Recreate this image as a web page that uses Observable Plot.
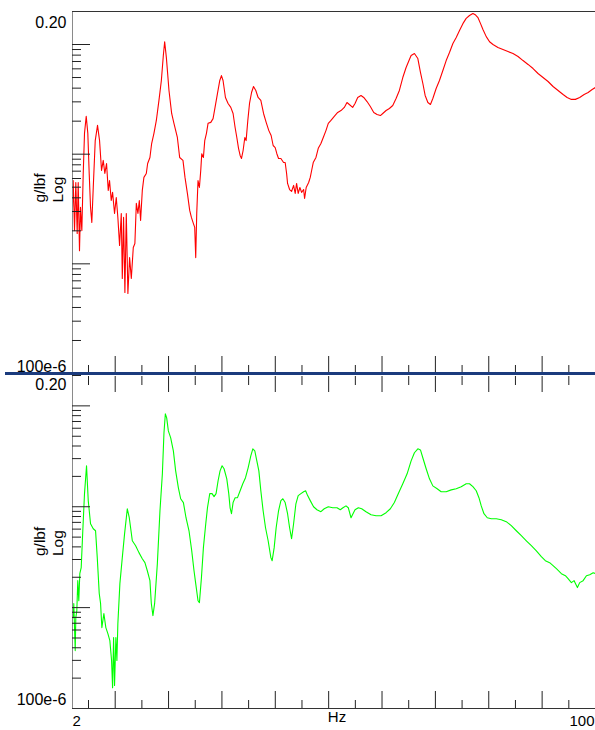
<!DOCTYPE html>
<html><head><meta charset="utf-8">
<script src="https://cdn.jsdelivr.net/npm/d3@7"></script>
<script src="https://cdn.jsdelivr.net/npm/@observablehq/plot@0.6"></script>
<style>
body{margin:0;background:#fff;}
#wrap{position:relative;width:595px;height:730px;overflow:hidden;background:#fff;}
#top,#bot{position:absolute;left:0;}
#top{top:0;}
#bot{top:373px;}
#divider{position:absolute;left:5px;width:590px;top:372px;height:3px;background:#1b3b7d;z-index:5;}
</style></head><body>
<div id="wrap"><div id="top"></div><div id="divider"></div><div id="bot"></div></div>
<script>
// ---- data (Hz, g/lbf) ----
const topFreq = [
 2.00,2.13,2.38,2.62,2.88,3.07,3.31,3.50,3.75,4.01,
 4.25,4.57,4.87,5.13,5.38,5.62,5.89,6.26,6.69,7.07,
 7.44,7.76,8.06,8.38,8.70,8.94,9.26,9.51,9.88,10.20,
 10.50,10.82,11.14,11.33,11.57,11.82,12.08,12.38,12.70,13.02,
 13.39,13.69,13.96,14.26,14.52,14.76,15.08,15.38,15.83,16.08,
 16.51,16.83,17.26,17.71,18.20,18.65,19.02,19.27,19.59,20.08,
 20.58,21.01,21.65,22.08,22.70,23.08,23.53,23.96,24.28,24.66,
 24.90,25.09,25.28,25.52,25.78,26.03,26.22,26.53,26.78,27.10,
 27.40,27.91,28.34,28.71,29.16,29.60,29.91,30.21,30.66,31.15,
 31.66,32.09,32.47,32.79,33.11,33.41,33.67,33.97,34.29,34.53,
 34.85,35.17,35.55,35.92,36.35,36.78,37.29,37.80,38.29,38.79,
 39.22,39.60,39.98,40.29,40.61,41.05,41.55,41.85,42.12,42.30,
 42.68,43.05,43.43,43.73,43.99,44.29,44.61,44.93,45.31,45.49,
 45.79,46.25,46.55,46.81,47.11,47.62,48.05,48.55,48.99,49.49,
 49.93,50.43,51.05,51.69,52.31,52.93,53.43,53.87,54.50,54.94,
 55.44,56.06,56.57,57.19,57.81,58.45,59.07,59.69,60.14,60.76,
 61.38,62.01,62.63,63.25,63.89,64.51,65.13,65.45,66.07,66.71,
 67.20,67.65,68.08,68.59,69.07,69.52,70.14,70.76,71.40,72.02,
 72.64,73.28,73.90,74.52,75.15,75.77,76.39,77.03,77.46,77.97,
 78.46,78.91,79.53,80.15,80.79,81.72,82.66,83.60,84.54,85.48,
 86.42,87.36,88.30,89.23,90.17,91.11,92.05,92.99,93.93,94.68,
 95.48,96.23,97.04,97.87,98.62,99.37,100.0
];
const topMag = [
 3.27e-3,5.75e-3,2.01e-3,5.52e-3,1.89e-3,5.52e-3,1.32e-3,3.27e-3,2.01e-3,6.67e-3,
 1.55e-2,2.21e-2,1.55e-2,6.67e-3,3.27e-3,2.38e-3,4.97e-3,1.33e-2,1.83e-2,1.33e-2,
 7.10e-3,8.77e-3,6.67e-3,8.22e-3,4.67e-3,5.75e-3,3.78e-3,4.48e-3,2.88e-3,4.03e-3,
 2.65e-3,1.47e-3,2.88e-3,7.36e-4,2.65e-3,5.48e-4,2.88e-3,5.37e-4,1.14e-3,7.36e-4,
 1.41e-3,1.53e-3,3.56e-3,2.88e-3,3.78e-3,2.49e-3,4.67e-3,6.14e-3,6.67e-3,8.22e-3,
 9.33e-3,1.25e-2,1.55e-2,2.03e-2,3.09e-2,4.70e-2,7.94e-2,1.06e-1,7.60e-2,3.81e-2,
 2.35e-2,1.91e-2,1.42e-2,9.33e-3,8.77e-3,6.14e-3,4.39e-3,3.07e-3,2.65e-3,2.33e-3,
 2.15e-3,1.14e-3,2.90e-3,5.75e-3,4.97e-3,7.10e-3,1.01e-2,9.33e-3,1.33e-2,1.55e-2,
 1.91e-2,1.95e-2,2.11e-2,2.67e-2,3.57e-2,4.70e-2,5.21e-2,4.70e-2,3.29e-2,2.90e-2,
 2.67e-2,2.35e-2,1.75e-2,1.42e-2,1.13e-2,9.73e-3,9.14e-3,1.08e-2,1.42e-2,1.33e-2,
 2.03e-2,2.90e-2,3.65e-2,4.14e-2,3.81e-2,3.29e-2,3.09e-2,2.35e-2,1.95e-2,1.64e-2,
 1.48e-2,1.20e-2,1.15e-2,1.01e-2,9.14e-3,9.14e-3,8.39e-3,8.39e-3,6.67e-3,5.41e-3,
 4.76e-3,4.57e-3,5.19e-3,4.39e-3,5.41e-3,4.39e-3,4.97e-3,4.48e-3,4.76e-3,3.94e-3,
 4.97e-3,5.52e-3,6.14e-3,7.10e-3,8.39e-3,9.33e-3,1.13e-2,1.25e-2,1.42e-2,1.64e-2,
 1.91e-2,2.03e-2,2.21e-2,2.40e-2,2.50e-2,2.67e-2,2.96e-2,2.84e-2,2.67e-2,2.90e-2,
 3.29e-2,3.43e-2,3.29e-2,3.02e-2,2.72e-2,2.40e-2,2.30e-2,2.25e-2,2.35e-2,2.50e-2,
 2.61e-2,2.78e-2,3.22e-2,3.81e-2,5.00e-2,6.17e-2,7.29e-2,7.94e-2,8.28e-2,7.45e-2,
 5.56e-2,4.41e-2,3.43e-2,2.96e-2,2.84e-2,3.22e-2,3.97e-2,4.70e-2,5.79e-2,7.14e-2,
 8.45e-2,1.02e-1,1.16e-1,1.34e-1,1.55e-1,1.73e-1,1.84e-1,1.92e-1,1.87e-1,1.76e-1,
 1.55e-1,1.37e-1,1.18e-1,1.06e-1,1.00e-1,9.40e-2,9.00e-2,8.63e-2,8.28e-2,7.78e-2,
 7.14e-2,6.58e-2,6.04e-2,5.44e-2,5.00e-2,4.60e-2,4.14e-2,3.81e-2,3.50e-2,3.29e-2,
 3.16e-2,3.16e-2,3.29e-2,3.50e-2,3.65e-2,3.89e-2,4.06e-2
];
const botFreq = [
 2.13,2.24,2.51,2.62,2.81,2.99,3.18,3.37,3.63,3.93,
 4.25,4.63,4.95,5.38,5.89,6.32,6.64,7.01,7.26,7.50,
 7.88,8.25,8.63,9.00,9.32,9.51,9.70,9.88,10.13,10.32,
 10.50,10.88,11.33,11.76,12.27,12.64,13.21,13.83,14.45,15.08,
 15.57,16.02,16.51,16.77,17.07,17.39,17.90,18.39,18.84,19.14,
 19.40,19.65,19.96,20.40,20.90,21.33,21.84,22.27,22.78,23.27,
 23.83,24.34,24.77,25.09,25.52,25.78,26.16,26.53,26.97,27.29,
 27.72,28.15,28.53,28.90,29.28,29.65,30.03,30.40,30.91,31.28,
 31.53,31.79,32.09,32.47,32.92,33.41,33.91,34.42,34.91,35.41,
 35.79,36.16,36.54,36.92,37.29,37.72,38.17,38.66,39.17,39.41,
 39.79,40.16,40.61,41.05,41.42,41.85,42.30,42.68,43.05,43.43,
 43.86,44.29,44.80,45.31,45.68,46.06,46.55,47.17,47.80,48.55,
 49.17,49.93,50.75,51.56,52.18,52.68,53.25,53.68,54.19,54.56,
 54.94,55.56,56.19,57.00,57.94,58.88,59.82,60.76,61.56,62.31,
 63.06,63.89,64.70,65.45,66.07,66.71,67.20,67.70,68.27,68.89,
 69.52,70.33,71.08,72.02,72.96,73.90,74.84,75.77,76.39,77.03,
 77.65,78.16,78.59,79.10,79.72,80.47,81.41,82.35,83.28,84.22,
 85.16,86.10,87.04,87.98,88.92,89.85,90.60,91.41,92.05,92.67,
 93.61,94.36,94.86,95.48,95.99,96.61,97.04,97.68,98.30,98.92,
 99.56,100.0
];
const botMag = [
 7.96e-4,1.10e-3,3.75e-4,7.96e-4,9.33e-4,1.85e-3,1.17e-3,2.17e-3,2.49e-3,5.78e-3,
 1.35e-2,2.55e-2,1.15e-2,6.79e-3,6.05e-3,5.78e-3,3.13e-3,1.38e-3,1.10e-3,6.34e-4,
 8.73e-4,6.34e-4,5.53e-4,4.71e-4,2.99e-4,1.61e-4,5.05e-4,1.69e-4,5.05e-4,2.99e-4,
 6.95e-4,1.73e-3,3.13e-3,5.41e-3,9.55e-3,7.78e-3,4.60e-3,4.11e-3,3.51e-3,3.05e-3,
 2.79e-3,2.32e-3,1.85e-3,1.10e-3,8.34e-4,1.10e-3,2.73e-3,9.12e-3,2.12e-2,5.41e-2,
 8.34e-2,7.60e-2,5.65e-2,4.82e-2,3.58e-2,2.27e-2,1.54e-2,1.20e-2,1.10e-2,7.78e-3,
 5.78e-3,3.66e-3,2.32e-3,1.73e-3,1.17e-3,1.12e-3,1.98e-3,3.93e-3,6.79e-3,9.77e-3,
 1.35e-2,1.35e-2,1.26e-2,1.35e-2,1.81e-2,2.27e-2,2.55e-2,2.38e-2,1.89e-2,1.35e-2,
 9.77e-3,8.53e-3,1.10e-2,1.23e-2,1.23e-2,1.44e-2,1.69e-2,1.94e-2,2.43e-2,3.20e-2,
 3.75e-2,3.58e-2,2.85e-2,2.27e-2,1.44e-2,9.12e-3,6.19e-3,4.60e-3,3.13e-3,2.92e-3,
 3.93e-3,6.19e-3,9.12e-3,1.15e-2,1.20e-2,1.10e-2,8.53e-3,6.19e-3,4.82e-3,6.79e-3,
 1.07e-2,1.29e-2,1.35e-2,1.41e-2,1.44e-2,1.29e-2,1.15e-2,1.00e-2,9.33e-3,8.93e-3,
 9.55e-3,1.00e-2,9.77e-3,9.77e-3,9.33e-3,9.77e-3,1.02e-2,9.77e-3,7.78e-3,8.53e-3,
 9.33e-3,9.77e-3,9.55e-3,8.93e-3,8.34e-3,8.15e-3,8.15e-3,8.73e-3,9.55e-3,1.10e-2,
 1.35e-2,1.69e-2,2.12e-2,2.85e-2,3.43e-2,3.75e-2,3.66e-2,2.99e-2,2.38e-2,1.89e-2,
 1.61e-2,1.51e-2,1.41e-2,1.41e-2,1.47e-2,1.51e-2,1.58e-2,1.69e-2,1.69e-2,1.58e-2,
 1.44e-2,1.23e-2,1.02e-2,8.53e-3,7.78e-3,7.60e-3,7.60e-3,7.43e-3,7.11e-3,6.49e-3,
 5.78e-3,5.16e-3,4.60e-3,4.11e-3,3.66e-3,3.20e-3,2.92e-3,2.79e-3,2.61e-3,2.43e-3,
 2.17e-3,2.07e-3,1.94e-3,1.77e-3,1.85e-3,1.58e-3,1.77e-3,1.85e-3,2.07e-3,2.12e-3,
 2.22e-3,2.17e-3
];

// ---- axes / tick definitions ----
const xDomain = [2, 100];
const yDomain = [1e-4, 0.2];
const xMajorTicks = [10, 20, 30, 40, 50, 60, 70, 80, 90, 100];
const xMinorTicks = [5, 15, 25, 35, 45, 55, 65, 75, 85, 95];
const yDecadeTicks = [1e-4, 1e-3, 1e-2, 1e-1];
const yMinorMultipliers = [2, 3, 4, 5, 6, 7, 8, 9];
const yTickLabels = ["0.20", "100e-6"];
const yTickValues = [0.2, 1e-4];
const xEndLabels = ["2", "100"];
const xEndValues = [2, 100];
const xAxisTitle = "Hz";
const yAxisTitle = "g/lbf\nLog";

const yMinorTicks = [];
for (const d of [1e-4, 1e-3, 1e-2]) for (const k of yMinorMultipliers) yMinorTicks.push(d * k);
yMinorTicks.push(0.2);

const FONT = "Liberation Sans, Arial, Helvetica, sans-serif";
const blank = () => "";
const toRows = (f, m) => f.map((v, i) => ({f: v, m: m[i]}));

function panel(opts) {
  const {data, color, height, marginTop, marginBottom, xTickAnchors, topFrame, labelDy, titleDy, bottomLabels} = opts;
  const marks = [
    Plot.line(data, {x: "f", y: "m", stroke: color, strokeWidth: 1.1, clip: true}),
    Plot.ruleX([xDomain[0]], {stroke: "#8a8a8a"}),
    Plot.axisY({ticks: yDecadeTicks, tickSize: -18, tickFormat: blank, label: null, stroke: "#222"}),
    Plot.axisY({ticks: yMinorTicks, tickSize: -9, tickFormat: blank, label: null, stroke: "#222"}),
    Plot.text([yTickLabels[0]], {x: [xDomain[0]], y: [yTickValues[0]], dx: -6, dy: labelDy[0], textAnchor: "end", fontSize: 16, fontFamily: FONT, fill: "#000"}),
    Plot.text([yTickLabels[1]], {x: [xDomain[0]], y: [yTickValues[1]], dx: -6, dy: labelDy[1], textAnchor: "end", fontSize: 16, fontFamily: FONT, fill: "#000"}),
    Plot.text([yAxisTitle], {frameAnchor: "left", dx: -24, dy: titleDy, rotate: -90, textAnchor: "start", lineHeight: 1.15, fontSize: 15.5, fontFamily: FONT, fill: "#000"})
  ];
  for (const a of xTickAnchors) {
    marks.push(Plot.axisX({anchor: a.anchor, ticks: xMajorTicks, tickSize: -a.major, tickFormat: blank, label: null, stroke: "#222"}));
    marks.push(Plot.axisX({anchor: a.anchor, ticks: xMinorTicks, tickSize: -a.minor, tickFormat: blank, label: null, stroke: "#222"}));
  }
  if (topFrame) marks.push(Plot.ruleY([yDomain[1]], {stroke: "#333"}));
  if (bottomLabels) {
    marks.push(Plot.ruleY([yDomain[0]], {stroke: "#333"}));
    marks.push(Plot.text([xEndLabels[0]], {x: [xEndValues[0]], y: [yDomain[0]], dy: 13, textAnchor: "start", fontSize: 15, fontFamily: FONT, fill: "#000"}));
    marks.push(Plot.text([xEndLabels[1]], {x: [xEndValues[1]], y: [yDomain[0]], dy: 13, dx: -1, textAnchor: "end", fontSize: 15, fontFamily: FONT, fill: "#000"}));
    marks.push(Plot.text([xAxisTitle], {frameAnchor: "bottom", dy: 13, dx: 3, fontSize: 15, fontFamily: FONT, fill: "#000"}));
  }
  return Plot.plot({
    width: 595,
    height,
    marginLeft: 72,
    marginRight: 0,
    marginTop,
    marginBottom,
    style: {fontFamily: FONT, fontSize: "15px", background: "transparent", overflow: "visible"},
    x: {type: "linear", domain: xDomain},
    y: {type: "log", domain: yDomain},
    marks
  });
}

const topPlot = panel({
  data: toRows(topFreq, topMag), color: "#ff0000", height: 373, marginTop: 11, marginBottom: 0,
  xTickAnchors: [{anchor: "bottom", major: 17, minor: 8}], topFrame: true, labelDy: [11, -7], titleDy: 10, bottomLabels: false
});
const botPlot = panel({
  data: toRows(botFreq, botMag), color: "#00ff00", height: 357, marginTop: 2, marginBottom: 22,
  xTickAnchors: [{anchor: "top", major: 16, minor: 9}, {anchor: "bottom", major: 17, minor: 8}], topFrame: false, labelDy: [9, -9], titleDy: 14, bottomLabels: true
});
document.getElementById("top").append(topPlot);
document.getElementById("bot").append(botPlot);
</script>
</body></html>
